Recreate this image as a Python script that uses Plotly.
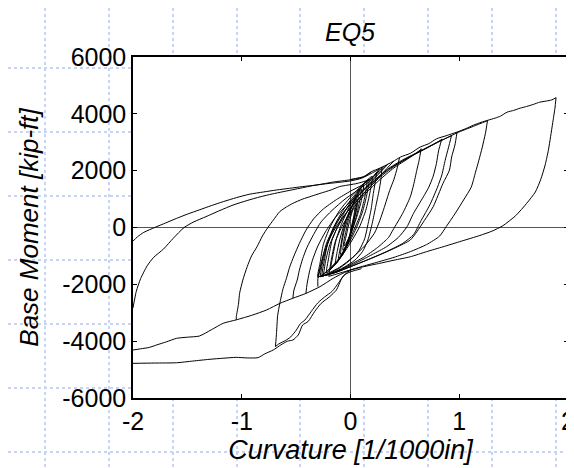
import plotly.graph_objects as go

# ---------------- data (curvature [1/1000 in], base moment [kip-ft]) ----------------
x_ticks = [-2, -1, 0, 1, 2]
y_ticks = [-6000, -4000, -2000, 0, 2000, 4000, 6000]

envelope_curv = [0.00, 0.12, 0.19, 0.27, 0.39, 0.46, 0.55, 0.64, 0.72, 0.79, 0.88, 0.98, 1.06, 1.13, 1.20,
                 1.26, 1.33, 1.38, 1.44, 1.50, 1.56, 1.62, 1.68, 1.74, 1.80, 1.85, 1.89]
envelope_mom = [1690, 1790, 1960, 2090, 2320, 2480, 2610, 2830, 2950, 3120, 3230, 3360, 3480, 3600, 3700,
                3770, 3850, 3920, 4060, 4120, 4200, 4260, 4330, 4410, 4450, 4490, 4570]

peak_unload_curv = [1.89, 1.88, 1.86, 1.84, 1.82, 1.79, 1.75, 1.70, 1.62, 1.52, 1.40, 1.30, 1.19, 1.02, 0.85,
                    0.70, 0.55, 0.40, 0.27, 0.12, 0.00, -0.07, -0.16, -0.28, -0.41, -0.53, -0.65, -0.77,
                    -0.90, -1.05, -1.17, -1.28, -1.39, -1.50, -1.60, -1.69, -1.78, -1.85, -1.93, -2.00]
peak_unload_mom = [4570, 4200, 3700, 3200, 2730, 2200, 1700, 1250, 850, 420, 60, -130, -280, -480, -680,
                   -850, -1030, -1150, -1260, -1380, -1500, -1610, -1790, -2080, -2320, -2490, -2670, -2900,
                   -3080, -3250, -3370, -3600, -3820, -3860, -3900, -4020, -4130, -4220, -4270, -4310]

return_inner_curv = [-2.00, -1.97, -1.93, -1.87, -1.81, -1.72, -1.63, -1.53, -1.44, -1.33, -1.20, -1.08,
                     -0.95, -0.83, -0.72, -0.62, -0.53, -0.44, -0.31, -0.15, 0.00, 0.10, 0.19, 0.27]
return_inner_mom = [-2830, -2250, -1800, -1350, -1050, -760, -380, 0, 200, 380, 600, 790,
                    950, 1080, 1180, 1260, 1330, 1400, 1500, 1570, 1640, 1730, 1900, 2070]

return_outer_curv = [-2.00, -1.96, -1.90, -1.80, -1.70, -1.60, -1.50, -1.39, -1.28, -1.17, -1.05, -0.93,
                     -0.80, -0.68, -0.56, -0.44, -0.30, -0.16, 0.00, 0.12, 0.19]
return_outer_mom = [-480, -330, -170, 0, 160, 320, 470, 620, 770, 910, 1050, 1170,
                    1250, 1320, 1380, 1440, 1500, 1600, 1680, 1780, 1950]

neg_lower_curv = [0.00, -0.04, -0.08, -0.13, -0.19, -0.27, -0.33, -0.39, -0.44, -0.48, -0.53, -0.58, -0.64,
                  -0.71, -0.79, -0.85, -0.95, -1.05, -1.17, -1.30, -1.45, -1.60, -1.80, -2.00, None,
                  -0.69, -0.66, -0.60, -0.55, -0.50, -0.46, -0.42, -0.36, -0.30, -0.24, -0.17, -0.11,
                  -0.06, 0.00, 0.10]
neg_lower_mom = [-1500, -1610, -1790, -2200, -2430, -2670, -2960, -3310, -3430, -3780, -3960, -4000, -4130,
                 -4310, -4450, -4580, -4590, -4570, -4600, -4640, -4700, -4760, -4770, -4780, None,
                 -4190, -4100, -3980, -3850, -3620, -3380, -3260, -2950, -2650, -2450, -2250, -1950,
                 -1680, -1560, -1450]

steep_neg_curv = [-1.05, -1.05, -1.03, -1.02, -0.99, -0.95, -0.91, -0.86, -0.81, -0.76, -0.71, -0.65, -0.59,
                  -0.53, -0.44, -0.36, -0.28, -0.18, -0.10, 0.06, 0.18, 0.27, None,
                  -0.69, -0.68, -0.67, -0.65, -0.62, -0.59, -0.56, -0.52, -0.47, -0.41, -0.34, -0.25,
                  -0.13, 0.00, 0.10, 0.20, 0.30, None,
                  -0.53, -0.52, -0.49, -0.47, -0.44, -0.40, -0.34, -0.27, -0.17, -0.05, 0.08, 0.20, 0.33, None,
                  -0.41, -0.40, -0.38, -0.35, -0.30, -0.23, -0.14, -0.03, 0.08, 0.20, 0.35, None,
                  -0.30, -0.30, -0.28, -0.25, -0.20, -0.12, -0.02, 0.10, 0.22, 0.40]
steep_neg_mom = [-3250, -3140, -2700, -2320, -1850, -1380, -1000, -680, -300, 0, 260, 560, 720,
                 850, 1000, 1100, 1200, 1320, 1440, 1550, 1700, 2080, None,
                 -4190, -3700, -3100, -2670, -2150, -1800, -1400, -1000, -560, -100, 300, 650,
                 980, 1280, 1480, 1750, 2150, None,
                 -2490, -2200, -1850, -1500, -1100, -700, -250, 200, 600, 1000, 1350, 1700, 2200, None,
                 -2320, -2000, -1600, -1150, -650, -150, 350, 800, 1200, 1650, 2250, None,
                 -2080, -1800, -1500, -1000, -450, 100, 600, 1100, 1600, 2350]

pos_unload_curv = [1.26, 1.24, 1.21, 1.18, 1.15, 1.11, 1.04, 0.96, 0.88, 0.82, 0.70, 0.55, 0.40, 0.22, 0.08,
                   -0.05, -0.20, None,
                   0.98, 0.96, 0.93, 0.91, 0.85, 0.76, 0.68, 0.61, 0.55, 0.42, 0.30, 0.15, 0.00, -0.15,
                   -0.28, None,
                   0.93, 0.90, 0.87, 0.84, 0.80, 0.73, 0.65, 0.58, 0.48, 0.33, 0.18, 0.03, -0.12, -0.28, None,
                   0.84, 0.81, 0.79, 0.76, 0.72, 0.67, 0.58, 0.52, 0.44, 0.33, 0.20, 0.05, -0.10, -0.25, None,
                   0.65, 0.63, 0.61, 0.58, 0.55, 0.48, 0.39, 0.35, 0.25, 0.12, 0.00, -0.12, -0.28, None,
                   0.45, 0.43, 0.40, 0.36, 0.31, 0.27, 0.22, 0.13, 0.02, -0.10, -0.25, None,
                   0.29, 0.28, 0.26, 0.23, 0.20, 0.16, 0.11, 0.04, -0.06, -0.17, -0.28, None,
                   0.24, 0.23, 0.21, 0.19, 0.16, 0.13, 0.08, 0.01, -0.09, -0.22]
pos_unload_mom = [3770, 3300, 2800, 2360, 1950, 1420, 970, 480, 30, -300, -600, -850, -1050, -1250, -1400,
                  -1550, -1720, None,
                  3360, 2900, 2480, 2020, 1550, 730, 250, -150, -440, -700, -910, -1150, -1380, -1600,
                  -1730, None,
                  3250, 2800, 2360, 1850, 1420, 800, 250, -250, -560, -850, -1100, -1330, -1560, -1730, None,
                  3120, 2700, 2250, 1800, 1420, 1080, 500, 30, -350, -680, -950, -1250, -1500, -1700, None,
                  2780, 2350, 2020, 1500, 1080, 500, -90, -350, -700, -1050, -1300, -1550, -1730, None,
                  2450, 2100, 1700, 1300, 700, 250, -200, -650, -1050, -1400, -1700, None,
                  2130, 1700, 1250, 700, 150, -440, -850, -1150, -1400, -1600, -1730, None,
                  1950, 1650, 1200, 650, 100, -400, -800, -1100, -1400, -1680]

reload_curv = [-0.28, -0.26, -0.22, -0.16, -0.08, 0.02, 0.12, 0.22, 0.34, 0.48, 0.62, 0.79, 0.93, None,
               -0.25, -0.23, -0.19, -0.12, -0.03, 0.07, 0.17, 0.28, 0.42, 0.58, 0.72, 0.84, None,
               -0.20, -0.18, -0.14, -0.07, 0.03, 0.14, 0.26, 0.40, 0.54, 0.65, None,
               -0.30, -0.27, -0.22, -0.14, -0.04, 0.08, 0.20, 0.35, 0.55, 0.75, 0.98, 1.13, 1.26]
reload_mom = [-1730, -1300, -700, -100, 450, 900, 1300, 1650, 2050, 2380, 2650, 2980, 3230, None,
              -1700, -1200, -600, 0, 550, 1000, 1400, 1800, 2200, 2550, 2830, 3100, None,
              -1720, -1200, -500, 100, 700, 1200, 1650, 2100, 2450, 2750, None,
              -1750, -1250, -550, 100, 650, 1150, 1600, 2050, 2500, 2900, 3330, 3560, 3760]

small_loops_curv = [-0.30, -0.28, -0.25, -0.19, -0.10, 0.02, 0.20, 0.18, 0.14, 0.08, -0.01, -0.13, -0.30, None,
                    -0.26, -0.24, -0.21, -0.15, -0.07, 0.04, 0.17, 0.15, 0.11, 0.05, -0.03, -0.13, -0.26, None,
                    -0.22, -0.20, -0.17, -0.11, -0.04, 0.05, 0.15, 0.13, 0.09, 0.03, -0.04, -0.12, -0.22, None,
                    -0.18, -0.16, -0.13, -0.08, -0.02, 0.05, 0.12, 0.10, 0.06, 0.01, -0.05, -0.11, -0.18, None,
                    -0.14, -0.12, -0.09, -0.05, 0.00, 0.05, 0.10, 0.08, 0.05, 0.01, -0.04, -0.09, -0.14, None,
                    -0.11, -0.09, -0.07, -0.04, 0.00, 0.04, 0.07, 0.06, 0.03, 0.00, -0.03, -0.07, -0.11, None,
                    -0.09, -0.08, -0.06, -0.03, 0.00, 0.03, 0.06, 0.05, 0.03, 0.00, -0.03, -0.06, -0.09, None,
                    -0.07, -0.06, -0.04, -0.02, 0.01, 0.03, 0.05, 0.04, 0.02, 0.00, -0.02, -0.05, -0.07, None,
                    -0.06, -0.04, -0.02, 0.00, 0.02, 0.04, 0.03, 0.01, -0.01, -0.04, -0.06]
small_loops_mom = [-1750, -1250, -600, 0, 600, 1150, 1800, 1250, 600, 0, -600, -1250, -1750, None,
                   -1680, -1150, -550, 50, 600, 1150, 1700, 1150, 550, -50, -650, -1200, -1680, None,
                   -1600, -1050, -450, 100, 650, 1150, 1620, 1050, 450, -100, -700, -1200, -1600, None,
                   -1450, -950, -400, 150, 650, 1100, 1500, 950, 400, -150, -700, -1150, -1450, None,
                   -1300, -800, -300, 200, 650, 1050, 1350, 850, 350, -150, -650, -1050, -1300, None,
                   -1100, -650, -200, 250, 650, 950, 1150, 700, 250, -200, -600, -950, -1100, None,
                   -950, -550, -150, 250, 600, 850, 1000, 600, 200, -200, -550, -850, -950, None,
                   -800, -450, -100, 250, 550, 750, 850, 500, 150, -200, -500, -700, -800, None,
                   -650, -300, 50, 350, 600, 700, 400, 50, -300, -550, -650]

families = [
    (envelope_curv, envelope_mom),
    (peak_unload_curv, peak_unload_mom),
    (return_inner_curv, return_inner_mom),
    (return_outer_curv, return_outer_mom),
    (neg_lower_curv, neg_lower_mom),
    (steep_neg_curv, steep_neg_mom),
    (pos_unload_curv, pos_unload_mom),
    (reload_curv, reload_mom),
    (small_loops_curv, small_loops_mom),
]

# ---------------- figure ----------------
fig = go.Figure()
for cx, my in families:
    fig.add_trace(go.Scatter(x=cx, y=my, mode="lines",
                             line=dict(color="black", width=1, shape="spline", smoothing=0.6),
                             hoverinfo="skip", showlegend=False))

# page body margin of 8px offsets the figure; plot box is placed at screen x 133..568, y 57..398
OFF = 8
W, H = 574, 468 - OFF
L, T, B = 133 - OFF, 57 - OFF, 70
R = W - (568 - OFF)
pw, ph = W - L - R, H - T - B

def px_x(p):
    return (p - OFF - L) / pw

def px_y(p):
    return (H - B - (p - OFF)) / ph

# decorative slide background grid (light blue dotted)
shapes = []
grid_col = "rgb(200,212,245)"
for gx in [45, 109, 173, 237, 300, 364, 428, 492, 556]:
    shapes.append(dict(type="line", xref="paper", yref="paper", x0=px_x(gx), x1=px_x(gx),
                       y0=px_y(OFF), y1=px_y(OFF + H), line=dict(color=grid_col, width=2, dash="dot"),
                       layer="below"))
for gy in [68, 132, 196, 260, 324, 388, 452]:
    shapes.append(dict(type="line", xref="paper", yref="paper", x0=px_x(OFF), x1=px_x(OFF + W),
                       y0=px_y(gy), y1=px_y(gy), line=dict(color=grid_col, width=2, dash="dot"),
                       layer="below"))
shapes.append(dict(type="rect", xref="paper", yref="paper", x0=0, x1=1, y0=0, y1=1,
                   fillcolor="white", line=dict(width=0), layer="below"))

font_family = "Liberation Sans, Arial, Helvetica, sans-serif"
axis_common = dict(
    showgrid=False, zeroline=True, zerolinecolor="#555555", zerolinewidth=1,
    showline=True, linecolor="black", linewidth=1.5, mirror="allticks",
    ticks="inside", ticklen=4, tickcolor="black", tickwidth=1,
    tickfont=dict(family=font_family, size=25, color="black"),
    ticklabeloverflow="allow",
)

fig.update_layout(
    width=W, height=H,
    margin=dict(l=L, r=R, t=T, b=B, autoexpand=False),
    paper_bgcolor="white", plot_bgcolor="white",
    shapes=shapes,
    title=dict(text="<i>EQ5</i>", x=(350 - OFF) / W, xanchor="center", y=1 - (32 - OFF) / H,
               yanchor="middle", yref="container", xref="container",
               font=dict(family=font_family, size=25, color="black")),
    xaxis=dict(range=[-2, 2], tickvals=x_ticks, ticktext=[str(v) for v in x_ticks],
               title=dict(text="<i>Curvature [1/1000in]</i>", standoff=2,
                          font=dict(family=font_family, size=27, color="black")),
               **axis_common),
    yaxis=dict(range=[-6000, 6000], tickvals=y_ticks, ticktext=[str(v) for v in y_ticks],
               title=dict(text="<i>Base Moment [kip-ft]</i>", standoff=16,
                          font=dict(family=font_family, size=26, color="black")),
               **axis_common),
)

fig.write_html("out.html")
